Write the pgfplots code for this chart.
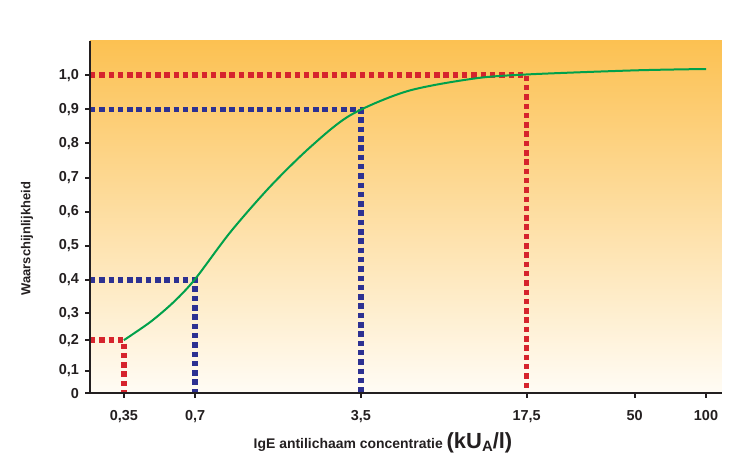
\documentclass[border=0pt]{standalone}
\usepackage{fontspec}
\setmainfont{Liberation Sans}
\usepackage{pgfplots}
\pgfplotsset{compat=1.18}

\definecolor{bgtop}{RGB}{252,193,82}
\definecolor{bgbot}{RGB}{255,252,245}
\definecolor{dotred}{RGB}{214,36,45}
\definecolor{dotblue}{RGB}{45,49,146}
\definecolor{curvegreen}{RGB}{0,161,75}
\definecolor{axisblack}{RGB}{35,31,32}

\begin{document}
\begin{tikzpicture}
\useasboundingbox (-90bp,-75.7bp) rectangle (663bp,393.3bp);
\begin{axis}[
  at={(0,0)}, anchor=south west,
  scale only axis, width=632bp, height=352.3bp,
  xmode=log, xmin=0.252, xmax=116.8,
  ymin=0, ymax=1.1,
  % the printed y scale is squeezed below 0.4
  y coord trafo/.code={\pgfmathparse{#1<0.1 ? 0.70*#1 : (#1<0.2 ? 0.070+0.97*(#1-0.1) : (#1<0.3 ? 0.167+0.85*(#1-0.2) : (#1<0.4 ? 0.252+1.04*(#1-0.3) : 0.356+1.0733*(#1-0.4))))}},
  axis x line*=bottom, axis y line*=left,
  axis line style={line width=2bp, axisblack},
  axis on top,
  axis background/.style={top color=bgtop, bottom color=bgbot},
  xtick={0.35,0.7,3.5,17.5,50,100},
  xticklabels={{0,35},{0,7},{3,5},{17,5},{50},{100}},
  ytick={0,0.1,0.2,0.3,0.4,0.5,0.6,0.7,0.8,0.9,1.0},
  yticklabels={{0},{0,1},{0,2},{0,3},{0,4},{0,5},{0,6},{0,7},{0,8},{0,9},{1,0}},
  xminorticks=false, yminorticks=false,
  tick align=outside, major tick length=4.5bp,
  tick style={line width=2bp, axisblack},
  tick label style={font=\fontsize{14.5}{15}\selectfont\bfseries, text=axisblack},
  xticklabel style={yshift=-9bp},
  yticklabel style={xshift=-3bp},
  /pgf/number format/assume math mode=true,
  xlabel={IgE antilichaam concentratie {\fontsize{22}{22}\selectfont(kU\raisebox{-2.4bp}{\fontsize{15}{15}\selectfont A}/l)}},
  xlabel style={font=\fontsize{14}{15}\selectfont\bfseries, text=axisblack,
    at={([yshift=-55.4bp]axis description cs:0.4636,0)}, anchor=base},
  ylabel={Waarschijnlijkheid},
  ylabel style={font=\fontsize{13}{14}\selectfont\bfseries, text=axisblack,
    at={([xshift=-63bp]axis description cs:0,0.439)}, anchor=center},
]
% dotted guide lines
\addplot[dotred, line width=5.5bp, dash pattern=on 5.5bp off 3.8bp]
  coordinates {(0.252,0.2) (0.35,0.2) (0.35,0)};
\addplot[dotred, line width=5.5bp, dash pattern=on 5.5bp off 3.8bp]
  coordinates {(0.252,1.0) (17.5,1.0) (17.5,0)};
\addplot[dotblue, line width=5.5bp, dash pattern=on 5.5bp off 3.8bp]
  coordinates {(0.252,0.4) (0.7,0.4) (0.7,0)};
\addplot[dotblue, line width=5.5bp, dash pattern=on 5.5bp off 3.8bp]
  coordinates {(0.252,0.9) (3.5,0.9) (3.5,0)};
% probability curve
\addplot[curvegreen, line width=2bp, smooth]
  coordinates {
    (0.35,0.2) (0.454,0.268) (0.569,0.334) (0.7,0.403) (0.987,0.541)
    (1.456,0.675) (2.147,0.790) (3.166,0.883) (5.49,0.953) (10.5,0.990)
    (17.5,1.002) (50,1.014) (100,1.018)
  };
\end{axis}
\end{tikzpicture}
\end{document}
